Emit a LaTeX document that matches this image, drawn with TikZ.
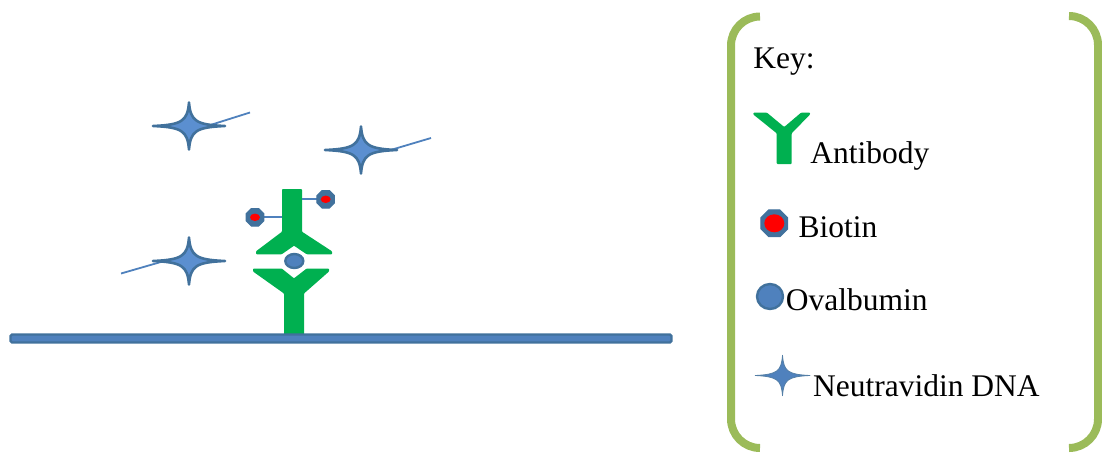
\documentclass[tikz,border=0pt]{standalone}
\usepackage{fontspec}
\setmainfont{Liberation Serif}
\usetikzlibrary{shapes.geometric}

\definecolor{abgreen}{HTML}{00B050}
\definecolor{surfblue}{HTML}{4F81BD}
\definecolor{darkblue}{HTML}{41719C}
\definecolor{lightblue}{HTML}{5B8FD0}
\definecolor{keygreen}{HTML}{9BBB59}

\tikzset{every picture/.style={line width=0.75pt}}
\tikzset{
  antibody/.style={fill=abgreen, draw=none, rounded corners=0.8pt},
  surface/.style={fill=surfblue, draw=darkblue, line width=2.2, rounded corners=1.5pt},
  dna/.style={draw=surfblue, line width=1.8},
  link/.style={draw=surfblue, line width=2},
  starmain/.style={fill=lightblue, draw=darkblue, line width=2.6, line join=round},
  starkey/.style={fill=surfblue, draw=darkblue!90, line width=0.8, line join=round},
  biotin/.style n args={3}{regular polygon, regular polygon sides=8, inner sep=0pt,
    minimum size=#1, fill=darkblue, draw=darkblue, line width=1,
    path picture={\fill[red] (path picture bounding box.center) ellipse (#2 and #3);}},
  ovalbumin/.style={ellipse, inner sep=0pt, fill=surfblue, draw=darkblue, line width=2.4},
  bracket/.style={draw=keygreen, line width=8, rounded corners=29pt},
  keytext/.style={font=\fontsize{31.5}{38}\selectfont, anchor=base west, inner sep=0pt},
  % four pointed star, style given as the argument
  navstar/.pic={
    \path[#1] (-36,0) .. controls (-7,-1.2) and (-1.5,-5) .. (0,-23.5)
      .. controls (1.5,-5) and (7,-1.2) .. (36,0)
      .. controls (7,1.2) and (1.5,5) .. (0,23.5)
      .. controls (-1.5,5) and (-7,1.2) .. cycle;
  }
}

\begin{document}
\begin{tikzpicture}[x=1pt,y=1pt,yscale=-1,xscale=1]
	\useasboundingbox (0,0) rectangle (1102,455);

	%Shape: DNA strands
	\coordinate (dna1a) at (211,124.8);
	\coordinate (dna1b) at (250,112.5);
	\coordinate (dna2a) at (392,149.6);
	\coordinate (dna2b) at (431,138);
	\coordinate (dna3a) at (166,260.5);
	\coordinate (dna3b) at (121,273.5);
	\draw [dna] (dna1a) -- (dna1b);
	\draw [dna] (dna2a) -- (dna2b);
	\draw [dna] (dna3a) -- (dna3b);

	%Shape: Neutravidin stars
	\coordinate (star1) at (189,126);
	\coordinate (star2) at (361,150);
	\coordinate (star3) at (189,261);
	\pic at (star1) {navstar=starmain};
	\pic at (star2) {navstar=starmain};
	\pic at (star3) {navstar=starmain};

	%Shape: capture antibody
	\draw [antibody] (253,268.5) -- (281.7,268.5) -- (294,278.3) -- (306.7,268.5) -- (329,268.5) -- (329,271.5)
		-- (304,293.5) -- (304,337) -- (284,337) -- (284,293.5) -- (253,271.5) -- cycle;
	%Shape: detection antibody
	\draw [antibody] (282,189) -- (302,189) -- (302,231.7) -- (332,251.3) -- (332,254.3) -- (306.7,254.3)
		-- (294,245.7) -- (281.7,254.3) -- (256,254.3) -- (256,251.3) -- (282,231.7) -- cycle;

	%Shape: surface
	\draw [surface] (10.5,334.5) rectangle (671.5,342.5);

	%Shape: ovalbumin
	\node [ovalbumin, minimum width=18, minimum height=14] (ova) at (294.3,261) {};

	%Shape: biotin tags
	\coordinate (hook1) at (282,217.3);
	\coordinate (hook2) at (302,199.3);
	\draw [link] (255,217.3) -- (hook1);
	\draw [link] (325.7,199.3) -- (hook2);
	\node [biotin={19}{5}{3.7}] (bio1) at (255,217.3) {};
	\node [biotin={19}{5}{3.7}] (bio2) at (325.7,199.3) {};

	%Shape: key brackets
	\draw [bracket] (760,16.5) -- (731,16.5) -- (731,448) -- (760,448);
	\draw [bracket] (1069,16) -- (1098,16) -- (1098,448) -- (1069,448);

	% Text Node
	\node [keytext] (keytitle) at (753,68.3) {Key:};

	%Shape: key antibody
	\draw [antibody] (753.3,112.7) -- (767,112.7) -- (784.2,127) -- (801,112.7) -- (810,112.7) -- (810,114.5)
		-- (791.7,133.3) -- (791.7,164) -- (776.7,164) -- (776.7,133.3) -- (753.3,114.5) -- cycle;
	% Text Node
	\node [keytext] (keyab) at (810,163.3) {Antibody};

	\node [biotin={29}{10}{9}] (keybio) at (774.3,223.3) {};
	% Text Node
	\node [keytext] (keybiotxt) at (798.3,237.3) {Biotin};

	\node [ovalbumin, minimum width=26, minimum height=25] (keyova) at (770,296.5) {};
	% Text Node
	\node [keytext] (keyovatxt) at (785.5,310) {Ovalbumin};

	\coordinate (keystar) at (782.5,375.5);
	\pic [xscale=0.76, yscale=0.86] at (keystar) {navstar=starkey};
	% Text Node
	\node [keytext] (keystartxt) at (812.7,396) {Neutravidin DNA};

\end{tikzpicture}
\end{document}
